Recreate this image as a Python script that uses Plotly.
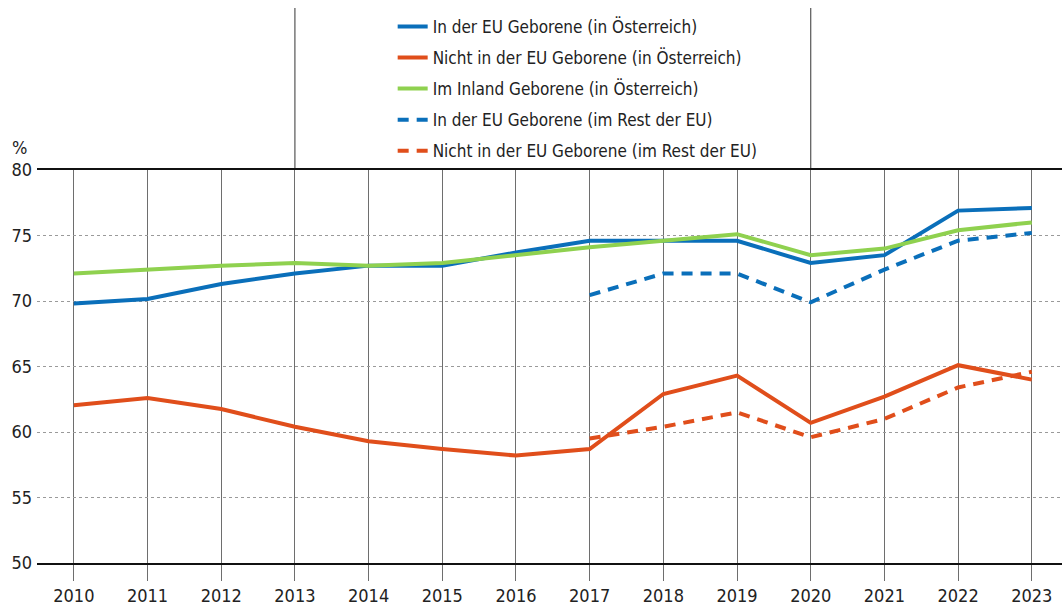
import plotly.graph_objects as go

years = list(range(2010, 2024))
years_rest = list(range(2017, 2024))

eu_at = [69.8, 70.15, 71.3, 72.1, 72.7, 72.7, 73.7, 74.6, 74.6, 74.6, 72.9, 73.5, 76.9, 77.1]
non_eu_at = [62.05, 62.6, 61.75, 60.4, 59.3, 58.7, 58.2, 58.7, 62.9, 64.3, 60.7, 62.7, 65.1, 64.0]
native_at = [72.1, 72.4, 72.7, 72.9, 72.7, 72.9, 73.5, 74.1, 74.6, 75.1, 73.5, 74.0, 75.4, 76.0]
eu_rest = [70.45, 72.1, 72.1, 69.9, 72.4, 74.6, 75.2]
non_eu_rest = [59.5, 60.4, 61.5, 59.6, 61.0, 63.4, 64.6]

labels = [
    "In der EU Geborene (in Österreich)",
    "Nicht in der EU Geborene (in Österreich)",
    "Im Inland Geborene (in Österreich)",
    "In der EU Geborene (im Rest der EU)",
    "Nicht in der EU Geborene (im Rest der EU)",
]
y_ticks = [50, 55, 60, 65, 70, 75, 80]

BLUE = "#0a6fba"
ORANGE = "#e04e1b"
GREEN = "#8fd14f"
FONT = "DejaVu Sans Condensed, sans-serif"

fig = go.Figure()
series = [
    (years, eu_at, BLUE, "solid"),
    (years, non_eu_at, ORANGE, "solid"),
    (years, native_at, GREEN, "solid"),
    (years_rest, eu_rest, BLUE, "11px,8px"),
    (years_rest, non_eu_rest, ORANGE, "11px,8px"),
]
for i, ((x, y, c, d), name) in enumerate(zip(series, labels)):
    fig.add_trace(go.Scatter(
        x=x, y=y, name=name, mode="lines", legendgroup=f"g{i}",
        line=dict(color=c, width=4, dash=d),
    ))

# Vertical lines at 2013 and 2020 extending above the plot
for xv in (2013, 2020):
    fig.add_shape(type="line", xref="x", yref="paper", x0=xv, x1=xv, y0=1, y1=1.412,
                  line=dict(color="#555555", width=1.2), layer="below")

fig.add_annotation(text="%", xref="paper", yref="paper", x=-0.026, y=1.025,
                   xanchor="left", yanchor="bottom", showarrow=False,
                   font=dict(family=FONT, size=18, color="#222222"))

fig.update_layout(
    width=1062, height=605,
    margin=dict(l=37, r=0, t=170, b=42),
    paper_bgcolor="white", plot_bgcolor="white",
    font=dict(family=FONT, size=18, color="#222222"),
    showlegend=True,
    legend=dict(x=0.347, y=1.41, xanchor="left", yanchor="top",
                font=dict(family=FONT, size=17, color="#222222"),
                tracegroupgap=6, bgcolor="rgba(0,0,0,0)"),
    xaxis=dict(range=[2009.5, 2023.41], tickmode="array", tickvals=years,
               showgrid=True, gridcolor="#6e6e6e", gridwidth=1,
               ticks="outside", ticklen=16, tickcolor="#6e6e6e", tickwidth=1,
               showline=True, mirror=True, linecolor="#111111", linewidth=1.5,
               zeroline=False, tickfont=dict(size=18), automargin=False),
    yaxis=dict(range=[50, 80], tickmode="array", tickvals=y_ticks,
               showgrid=True, gridcolor="#9a9a9a", griddash="dot", gridwidth=1,
               showline=False, zeroline=False, ticks="", ticklabelstandoff=4,
               tickfont=dict(size=18), automargin=False),
)

fig.write_html("out.html", config={"displayModeBar": False},
               post_script="document.body.style.margin='0';")
